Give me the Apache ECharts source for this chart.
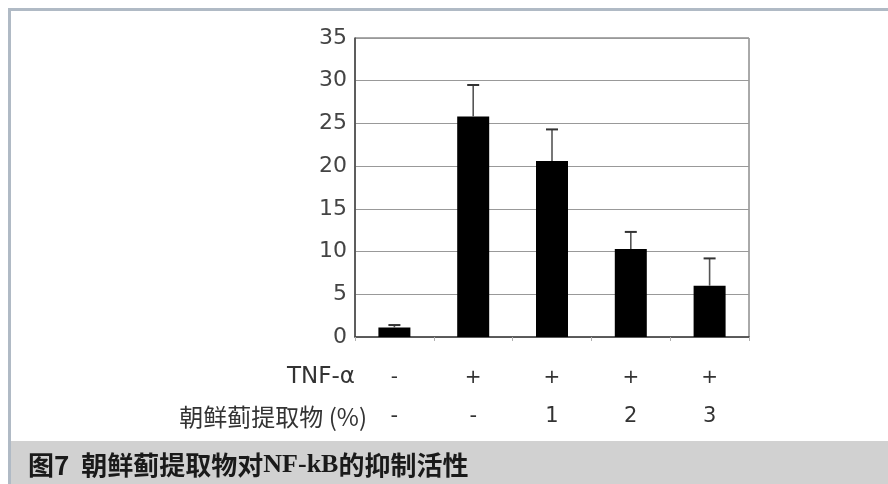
<!DOCTYPE html>
<html>
<head>
<meta charset="utf-8">
<script src="https://cdn.jsdelivr.net/npm/echarts@6/dist/echarts.min.js"></script>
<style>
  html, body { margin: 0; padding: 0; background: #ffffff; }
  #chart { width: 888px; height: 484px; }
</style>
</head>
<body>
<div id="chart"></div>
<script>
// Treatment groups and their labels for the two rows under the axis
const groups = ['g1', 'g2', 'g3', 'g4', 'g5'];
const tnfRow = ['-', '+', '+', '+', '+'];
const extractRow = ['-', '-', '1', '2', '3'];

// NF-kB activity: mean and upper end of the error bar
const meanValues = [1.1, 25.8, 20.6, 10.3, 6.0];
const upperValues = [1.4, 29.5, 24.3, 12.3, 9.2];

// Y axis range
const yMin = 0;
const yMax = 35;
const yStep = 5;

const chart = echarts.init(document.getElementById('chart'), null, { renderer: 'canvas' });

const labelFont = "'DejaVu Sans', 'Noto Sans CJK SC', sans-serif";
const cjkFont = "'Noto Sans CJK SC', 'DejaVu Sans', sans-serif";

const option = {
  backgroundColor: '#ffffff',
  animation: false,
  grid: {
    left: 355, right: 139, top: 38, bottom: 147,
    show: true, borderColor: '#555555', borderWidth: 1, backgroundColor: 'transparent'
  },
  xAxis: {
    type: 'category',
    data: groups,
    axisLine: { show: true, lineStyle: { color: '#444444', width: 1.5 } },
    axisTick: { show: true, length: 4, lineStyle: { color: '#b0b0b0' } },
    axisLabel: {
      margin: 21,
      interval: 0,
      formatter: function (value, idx) {
        return '{a|' + tnfRow[idx] + '}\n{b|' + extractRow[idx] + '}';
      },
      rich: {
        a: { fontFamily: labelFont, fontSize: 20, color: '#333333', lineHeight: 39 },
        b: { fontFamily: labelFont, fontSize: 21, color: '#333333', lineHeight: 39 }
      }
    }
  },
  yAxis: {
    type: 'value',
    min: yMin, max: yMax, interval: yStep,
    axisLine: { show: true, lineStyle: { color: '#444444', width: 1.5 } },
    axisTick: { show: false },
    splitLine: { show: true, lineStyle: { color: '#999999', width: 1 } },
    axisLabel: { margin: 8, fontFamily: labelFont, fontSize: 22, color: '#444444' }
  },
  series: [
    {
      type: 'bar',
      data: meanValues,
      barWidth: 32,
      itemStyle: { color: '#000000' },
      z: 3
    },
    {
      type: 'custom',
      z: 4,
      data: groups.map(function (g, i) { return [i, meanValues[i], upperValues[i]]; }),
      renderItem: function (params, api) {
        const base = api.coord([api.value(0), api.value(1)]);
        const top = api.coord([api.value(0), api.value(2)]);
        const half = 6;
        return {
          type: 'group',
          children: [
            { type: 'line', shape: { x1: base[0], y1: base[1], x2: top[0], y2: top[1] },
              style: { stroke: '#555555', lineWidth: 1.6 } },
            { type: 'line', shape: { x1: top[0] - half, y1: top[1], x2: top[0] + half, y2: top[1] },
              style: { stroke: '#333333', lineWidth: 2 } }
          ]
        };
      }
    }
  ],
  graphic: [
    { type: 'rect', shape: { x: 8, y: 8, width: 880, height: 3 }, style: { fill: '#b0bac5' }, silent: true },
    { type: 'rect', shape: { x: 8, y: 8, width: 3, height: 476 }, style: { fill: '#b0bac5' }, silent: true },
    { type: 'rect', shape: { x: 11, y: 441, width: 877, height: 43 }, style: { fill: '#d1d1d1' }, silent: true },
    {
      type: 'text', x: 28, y: 465, silent: true,
      style: {
        text: '{h|图7}{g| }{h|朝鲜蓟提取物对}{s|NF-kB}{h|的抑制活性}',
        verticalAlign: 'middle', align: 'left',
        rich: {
          h: { fontFamily: cjkFont, fontSize: 26, fontWeight: 'bold', fill: '#1a1a1a' },
          g: { fontFamily: cjkFont, fontSize: 26, width: 12 },
          s: { fontFamily: "'Liberation Serif', serif", fontSize: 26, fontWeight: 'bold', fill: '#1a1a1a' }
        }
      }
    },
    {
      type: 'text', x: 355, y: 377, silent: true,
      style: { text: 'TNF-α', align: 'right', verticalAlign: 'middle',
        fontFamily: labelFont, fontSize: 23, fill: '#333333' }
    },
    {
      type: 'text', x: 367, y: 417, silent: true,
      style: { text: '朝鲜蓟提取物 (%)', align: 'right', verticalAlign: 'middle',
        fontFamily: cjkFont, fontSize: 24, fill: '#333333' }
    }
  ]
};

chart.setOption(option);
</script>
</body>
</html>
